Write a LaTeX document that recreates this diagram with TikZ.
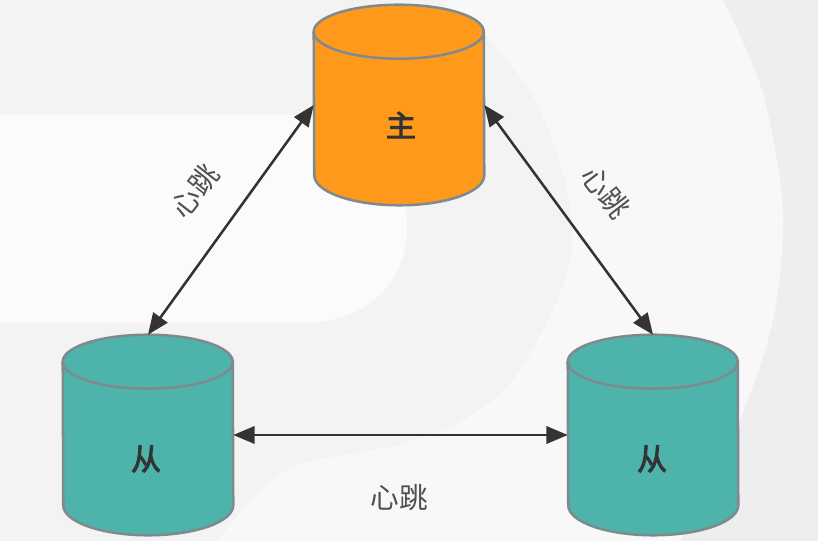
\documentclass[tikz,border=0pt]{standalone}
\usepackage{fontspec}
\newfontfamily\cjk{Noto Sans CJK SC}
\newfontfamily\cjkheavy[FakeBold=3]{Noto Sans CJK SC}
\usetikzlibrary{arrows.meta}
\definecolor{bgouter}{HTML}{EEEEEE}
\definecolor{bgring}{HTML}{F8F8F8}
\definecolor{bginner}{HTML}{F3F3F3}
\definecolor{bgpill}{HTML}{FBFBFB}
\definecolor{masterfill}{HTML}{FF991C}
\definecolor{slavefill}{HTML}{4DB3AB}
\definecolor{cylline}{HTML}{7F8A8E}
\definecolor{inkdark}{HTML}{333333}
\definecolor{labelgray}{HTML}{505050}
\tikzset{
  x=0.75pt,y=-0.75pt,
  cylbox/.style={minimum width=127.5pt,minimum height=150pt,inner sep=0pt},
  cyltext/.style={font=\cjkheavy\fontsize{22.5}{22.5}\selectfont,text=inkdark,inner sep=0pt},
  link/.style={draw=inkdark,line width=1.9pt,{Triangle[length=16pt,width=13pt]}-{Triangle[length=16pt,width=13pt]}},
  beat/.style={font=\cjk\fontsize{21.5}{21.5}\selectfont,text=labelgray,inner sep=0pt},
  cylstroke/.style={draw=cylline,line width=1.9pt},
}
\newcommand{\cyl}[2]{%
  \path[fill=#2,cylstroke] ([yshift=-20.25pt]#1.north west)
    arc[start angle=180,end angle=0,x radius=63.75pt,y radius=20.25pt]
    -- ([yshift=22.5pt]#1.south east)
    arc[start angle=0,end angle=-180,x radius=63.75pt,y radius=22.5pt]
    -- cycle;
  \path[cylstroke] ([yshift=-20.25pt]#1.north west)
    arc[start angle=180,end angle=360,x radius=63.75pt,y radius=20.25pt];
}
\begin{document}
\begin{tikzpicture}
\useasboundingbox (0,0) rectangle (818,541);
% background
\fill[bgouter] (0,0) rectangle (818,541);
\fill[bgring] (0,0) -- plot[smooth] coordinates {(723,0) (762,90) (783,210) (773,320) (740,420) (700,500) (680,541)} -- (0,541) -- cycle;
\fill[bginner] (0,0) -- plot[smooth] coordinates {(440,0) (485,35) (535,100) (565,180) (572,245) (557,300) (513,380) (463,420) (397,445) (297,465) (250,500) (218,541)} -- (0,541) -- cycle;
\fill[bgpill] (0,115) -- (300,115) .. controls (370,115) and (407,170) .. (407,227)
  .. controls (407,285) and (365,323) .. (300,323) -- (0,323) -- cycle;
% cylinders
\node[cylbox] (master) at (399,105) {};
\node[cylbox] (slaveL) at (148,435) {};
\node[cylbox] (slaveR) at (653,435) {};
\cyl{master}{masterfill}
\cyl{slaveL}{slavefill}
\cyl{slaveR}{slavefill}
\node[cyltext] (tm) at (401,125) {主};
\node[cyltext] (tl) at (146,459) {从};
\node[cyltext] (tr) at (652,459) {从};
% connectors
\draw[link] (slaveL.north) -- (master.west);
\draw[link] (slaveR.north) -- (master.east);
\draw[link] (slaveL.east) -- (slaveR.west);
% labels
\node[beat,rotate=52] (b1) at (195,191) {心跳};
\node[beat,rotate=-52] (b2) at (606,192) {心跳};
\node[beat] (b3) at (399,498) {心跳};
\end{tikzpicture}
\end{document}
